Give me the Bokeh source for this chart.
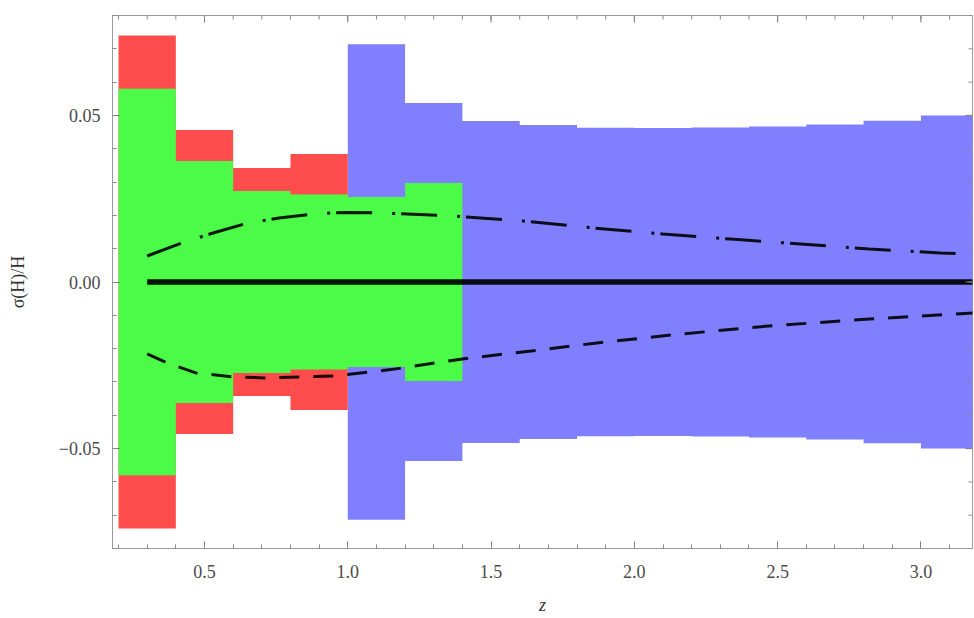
from bokeh.plotting import figure
from bokeh.models import FixedTicker, Range1d
from bokeh.embed import file_html
from bokeh.resources import INLINE
import numpy as np

# ---------------- data ----------------
# outer (red) error bins, z in [0.2, 1.0]
red_left = [0.2, 0.4, 0.6, 0.8]
red_right = [0.4, 0.6, 0.8, 1.0]
red_err = [0.0740, 0.0456, 0.0342, 0.0384]

# inner (green) error bins, z in [0.2, 1.4]
green_left = [0.2, 0.4, 0.6, 0.8, 1.0, 1.2]
green_right = [0.4, 0.6, 0.8, 1.0, 1.2, 1.4]
green_err = [0.0580, 0.0363, 0.0273, 0.0263, 0.0255, 0.0297]

# blue error bins, z in [1.0, 3.2]
blue_left = [1.0, 1.2, 1.4, 1.6, 1.8, 2.0, 2.2, 2.4, 2.6, 2.8, 3.0]
blue_right = [1.2, 1.4, 1.6, 1.8, 2.0, 2.2, 2.4, 2.6, 2.8, 3.0, 3.2]
blue_err = [0.0714, 0.0537, 0.0483, 0.0471, 0.0463, 0.0462, 0.0464, 0.0467, 0.0473, 0.0484, 0.0500]

# fiducial line
zero_z = [0.3, 3.2]
zero_v = [0.0, 0.0]

# upper dot-dashed curve
up_z = [0.30, 0.42, 0.53, 0.65, 0.76, 0.89, 1.00, 1.12, 1.37, 1.61, 1.86, 2.10, 2.35, 2.58, 2.82, 3.07, 3.20]
up_v = [0.0078, 0.0117, 0.0147, 0.0177, 0.0192, 0.0205, 0.0209, 0.0207, 0.0198, 0.0183, 0.0162, 0.0144, 0.0128, 0.0114, 0.0099, 0.0087, 0.0083]

# lower dashed curve
lo_z = [0.30, 0.37, 0.47, 0.60, 0.72, 0.95, 1.15, 1.40, 1.64, 1.87, 2.14, 2.47, 2.82, 3.20]
lo_v = [-0.0216, -0.0243, -0.0273, -0.0285, -0.0288, -0.0282, -0.0263, -0.0231, -0.0207, -0.0183, -0.0158, -0.0132, -0.0111, -0.0092]

# ticks
x_major = [0.5, 1.0, 1.5, 2.0, 2.5, 3.0]
x_labels = ["0.5", "1.0", "1.5", "2.0", "2.5", "3.0"]
y_major = [-0.05, 0.0, 0.05]
y_labels = ["\u22120.05", "0.00", "0.05"]

x_minor = [round(v, 1) for v in np.arange(0.2, 3.2, 0.1)]
y_minor = [round(v, 2) for v in np.arange(-0.08, 0.081, 0.01)]

X0, X1 = 0.179, 3.18
Y0, Y1 = -0.08, 0.08

RED = "#FF4D4D"
GREEN = "#4CFA48"
BLUE = "#8080FF"
FONT = "Liberation Serif"

p = figure(width=974, height=618,
           x_range=Range1d(X0, X1), y_range=Range1d(Y0, Y1),
           output_backend="svg", toolbar_location=None,
           min_border_left=112, min_border_right=2,
           min_border_top=15, min_border_bottom=70)
p.xgrid.visible = False
p.ygrid.visible = False
p.outline_line_color = "#9a9a9a"
p.background_fill_color = "white"
p.border_fill_color = "white"


def band(left, right, err, color):
    xs = list(left) + [right[-1]]
    hi = list(err) + [err[-1]]
    lo = [-e for e in hi]
    p.varea_step(x=xs, y1=lo, y2=hi, step_mode="after", fill_color=color)


band(blue_left, blue_right, blue_err, BLUE)
band(red_left, red_right, red_err, RED)
band(green_left, green_right, green_err, GREEN)

p.line(zero_z, zero_v, line_color="black", line_width=5.5, line_alpha=0.92)
p.line(up_z, up_v, line_color="black", line_width=3, line_dash="36 20 3 6", line_alpha=0.9)
p.line(lo_z, lo_v, line_color="black", line_width=3, line_dash="20 14", line_alpha=0.9)

# frame ticks on the top and right edges (pointing inward), from the tick lists
frame_w_px, frame_h_px = 860.0, 533.0
dy_major = 7 * (Y1 - Y0) / frame_h_px
dy_minor = 4 * (Y1 - Y0) / frame_h_px
dx_major = 7 * (X1 - X0) / frame_w_px
dx_minor = 4 * (X1 - X0) / frame_w_px
p.segment(x0=x_major, y0=[Y1] * len(x_major), x1=x_major,
          y1=[Y1 - dy_major] * len(x_major), line_color="#777777", line_width=1)
p.segment(x0=x_minor, y0=[Y1] * len(x_minor), x1=x_minor,
          y1=[Y1 - dy_minor] * len(x_minor), line_color="#888888", line_width=1)
p.segment(x0=[X1] * len(y_major), y0=y_major, x1=[X1 - dx_major] * len(y_major),
          y1=y_major, line_color="#777777", line_width=1)
p.segment(x0=[X1] * len(y_minor), y0=y_minor, x1=[X1 - dx_minor] * len(y_minor),
          y1=y_minor, line_color="#888888", line_width=1)

xt = FixedTicker(ticks=x_major, minor_ticks=x_minor)
yt = FixedTicker(ticks=y_major, minor_ticks=y_minor)


def style(ax):
    ax.axis_line_color = "#9a9a9a"
    ax.major_tick_line_color = "#777777"
    ax.minor_tick_line_color = "#888888"
    ax.major_tick_in = 7
    ax.major_tick_out = 0
    ax.minor_tick_in = 4
    ax.minor_tick_out = 0
    ax.major_label_text_font = FONT
    ax.major_label_text_color = "#4a4a4a"
    ax.major_label_text_font_size = "18px"


p.xaxis.ticker = xt
p.yaxis.ticker = yt
p.xaxis.major_label_overrides = dict(zip(x_major, x_labels))
p.yaxis.major_label_overrides = dict(zip(y_major, y_labels))
style(p.xaxis[0])
style(p.yaxis[0])
p.xaxis.major_label_standoff = 16
p.yaxis.major_label_standoff = 12

p.xaxis.axis_label = "z"
p.xaxis.axis_label_text_font = FONT
p.xaxis.axis_label_text_font_style = "italic"
p.xaxis.axis_label_text_font_size = "18px"
p.xaxis.axis_label_text_color = "#333333"
p.xaxis.axis_label_standoff = 14

p.yaxis.axis_label = "\u03c3(H)/H"
p.yaxis.axis_label_text_font = FONT
p.yaxis.axis_label_text_font_style = "normal"
p.yaxis.axis_label_text_font_size = "18px"
p.yaxis.axis_label_text_color = "#333333"
p.yaxis.axis_label_standoff = 28

open("out.html", "w").write(file_html(p, INLINE))
